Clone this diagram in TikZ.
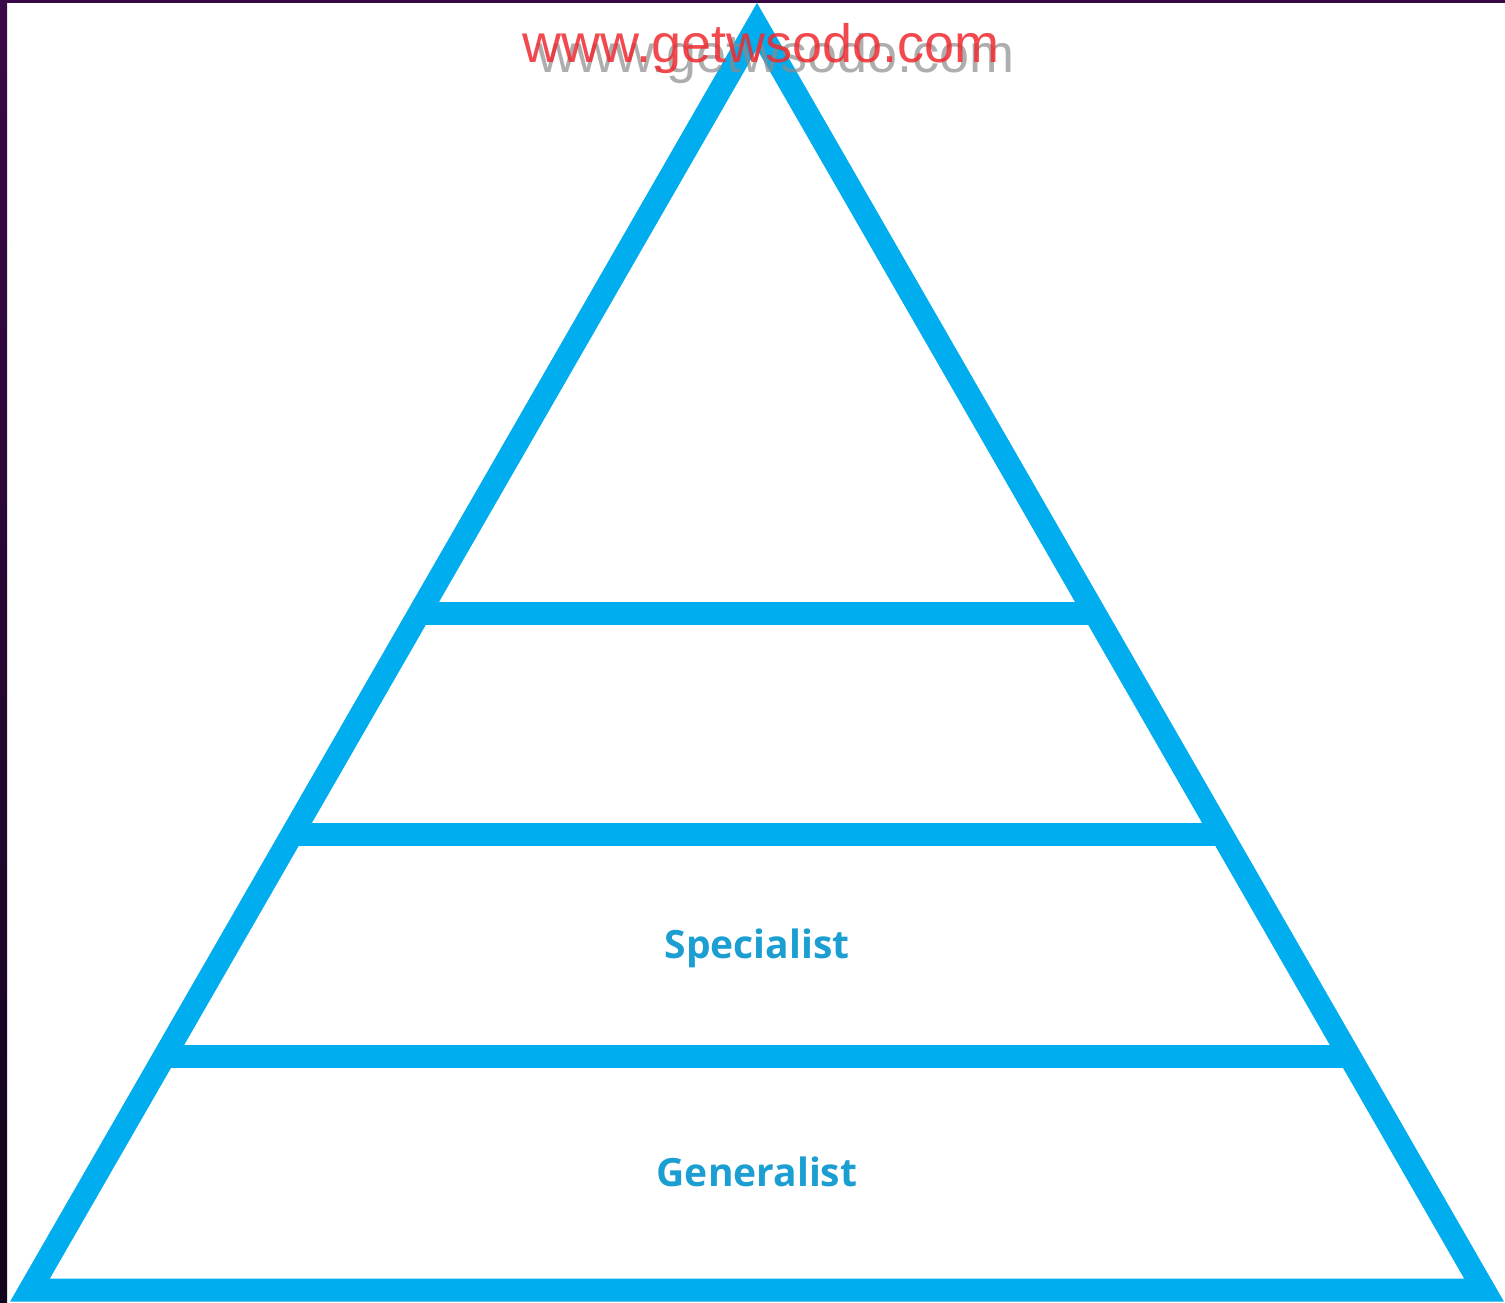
\documentclass[tikz,border=0pt]{standalone}
\usepackage{fontspec}
\usetikzlibrary{calc}
\setmainfont{Open Sans}
\newfontfamily\wmfont{Liberation Sans}
\definecolor{pyr}{HTML}{00ADEF}
\definecolor{lbl}{HTML}{1B9FD2}
\definecolor{edgetop}{HTML}{3A0A48}
\definecolor{edgebot}{HTML}{12041A}
\definecolor{wmred}{HTML}{F02A30}
\definecolor{wmgray}{HTML}{8C8C8C}
\tikzset{
  pyrline/.style={draw=pyr, line width=23pt, line join=miter, line cap=butt},
  lbltext/.style={text=lbl, font=\fontsize{39}{42}\selectfont\bfseries, inner sep=0pt},
  wmtext/.style={font=\wmfont\fontsize{54}{60}\selectfont, inner sep=0pt, anchor=base west}
}
\begin{document}
\begin{tikzpicture}[x=1pt, y=-1pt]
\useasboundingbox (0,0) rectangle (1505,1302);
\fill[white] (0,0) rectangle (1505,1302);
% dark frame strips
\fill[edgetop] (0,0) rectangle (1505,3);
\shade[top color=edgetop, bottom color=edgebot] (0,0) rectangle (7,1302);
% pyramid
\coordinate (A) at (757,26);
\coordinate (BL) at (30,1290);
\coordinate (BR) at (1484,1290);
\draw[pyrline] (A) -- (BL) -- (BR) -- cycle;
\coordinate (L1) at ($(A)!0.4644!(BL)$);
\coordinate (R1) at ($(A)!0.4644!(BR)$);
\coordinate (L2) at ($(A)!0.6400!(BL)$);
\coordinate (R2) at ($(A)!0.6400!(BR)$);
\coordinate (L3) at ($(A)!0.8149!(BL)$);
\coordinate (R3) at ($(A)!0.8149!(BR)$);
\draw[pyrline] (L1) -- (R1);
\draw[pyrline] (L2) -- (R2);
\draw[pyrline] (L3) -- (R3);
% labels
\node[lbltext] (spec) at (757,948) {Specialist};
\node[lbltext] (gen) at (757,1172) {Generalist};
% watermark
\node[wmtext, text=wmgray, opacity=0.7] (wm2) at (537,72) {www.getwsodo.com};
\node[wmtext, text=wmred, opacity=0.85] (wm1) at (522,62) {www.getwsodo.com};
\end{tikzpicture}
\end{document}
